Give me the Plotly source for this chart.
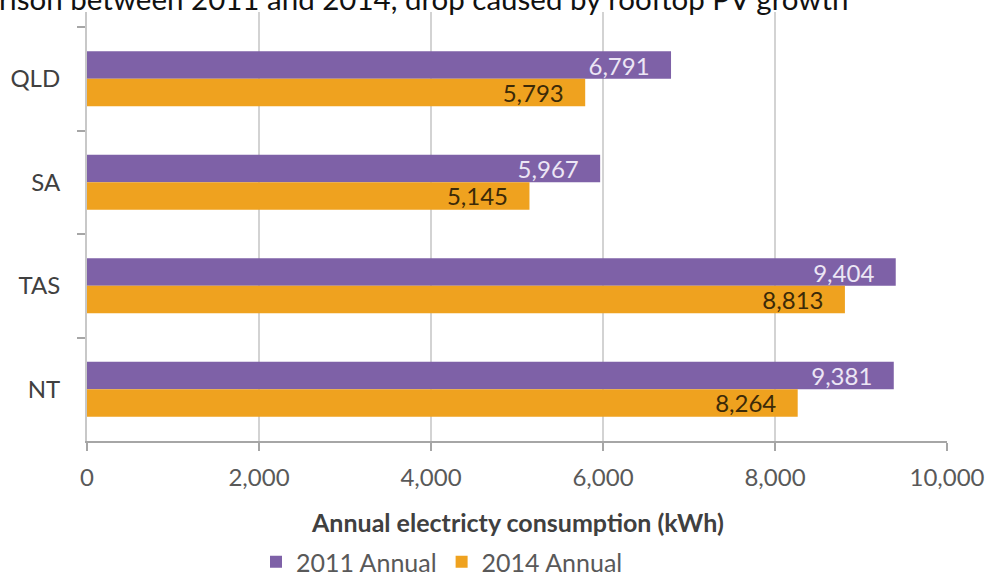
import plotly.graph_objects as go

# Average annual household electricity consumption by state (kWh)
states = ["QLD", "SA", "TAS", "NT"]
annual_2011 = [6791, 5967, 9404, 9381]
annual_2014 = [5793, 5145, 8813, 8264]
series_names = ["2011 Annual", "2014 Annual"]
x_ticks = [0, 2000, 4000, 6000, 8000, 10000]
x_tick_labels = ["0", "2,000", "4,000", "6,000", "8,000", "10,000"]

PURPLE = "#7e61a7"
ORANGE = "#efa21f"
LABEL_FONT = "Lato, 'Open Sans', sans-serif"
NBSP = "\u00a0"

W, H = 997, 578
L, R, T, B = 87, 50, 12, 137
plot_h = H - T - B
plot_w = W - L - R


def px_to_paper_y(py):
    return (H - B - py) / plot_h


def px_to_paper_x(px):
    return (px - L) / plot_w


fig = go.Figure()
fig.add_trace(go.Bar(
    y=states, x=annual_2011, name=series_names[0], orientation="h",
    marker=dict(color=PURPLE, line=dict(width=0)),
    texttemplate="%{x:,.0f}" + NBSP * 3, textposition="inside",
    insidetextanchor="end",
    textfont=dict(family=LABEL_FONT, size=24, color="#ece6f5"),
    constraintext="none",
))
fig.add_trace(go.Bar(
    y=states, x=annual_2014, name=series_names[1], orientation="h",
    marker=dict(color=ORANGE, line=dict(width=0)),
    texttemplate="%{x:,.0f}" + NBSP * 3, textposition="inside",
    insidetextanchor="end",
    textfont=dict(family=LABEL_FONT, size=24, color="#3b2a08"),
    constraintext="none",
))

fig.update_layout(
    width=W, height=H,
    margin=dict(l=L, r=R, t=T, b=B, pad=0, autoexpand=False),
    paper_bgcolor="white", plot_bgcolor="white",
    barmode="group", bargap=0.47, bargroupgap=0,
    font=dict(family=LABEL_FONT, size=24, color="#595959"),
    showlegend=True,
    legend=dict(
        orientation="h", x=px_to_paper_x(442), xanchor="center",
        y=px_to_paper_y(562), yanchor="middle",
        font=dict(size=25, color="#595959"),
        itemwidth=30, traceorder="normal",
        tracegroupgap=0,
    ),
    xaxis=dict(
        range=[0, 10000], tickvals=x_ticks, ticktext=x_tick_labels,
        showgrid=True, gridcolor="#d3d3d3", gridwidth=2,
        zeroline=False, showline=True, linecolor="#a6a6a6", linewidth=2,
        ticks="outside", ticklen=8, tickcolor="#a6a6a6", tickwidth=2,
        ticklabelstandoff=6,
        tickfont=dict(size=24, color="#595959"),
        fixedrange=True,
    ),
    yaxis=dict(
        categoryorder="array", categoryarray=states,
        range=[3.5, -0.645],
        showgrid=False, zeroline=False,
        showline=True, linecolor="#c8c8c8", linewidth=2,
        ticks="outside", tickson="boundaries", ticklen=8,
        tickcolor="#a6a6a6", tickwidth=2,
        ticklabelstandoff=20,
        tickfont=dict(size=24, color="#404040"),
        fixedrange=True,
    ),
    annotations=[
        dict(
            text="<b>Annual electricty consumption (kWh)</b>",
            xref="paper", yref="paper", x=0.5, y=px_to_paper_y(522),
            xanchor="center", yanchor="middle", showarrow=False,
            font=dict(family=LABEL_FONT, size=25, color="#404040"),
        ),
        dict(
            text="rison between 2011 and 2014, drop caused by rooftop PV growth",
            xref="paper", yref="paper", x=px_to_paper_x(-3), y=px_to_paper_y(-2),
            xanchor="left", yanchor="middle", showarrow=False,
            font=dict(family="Lato, 'Noto Sans', sans-serif", size=29.5, color="#111111"),
        ),
    ],
)

fig.write_html("out.html")
